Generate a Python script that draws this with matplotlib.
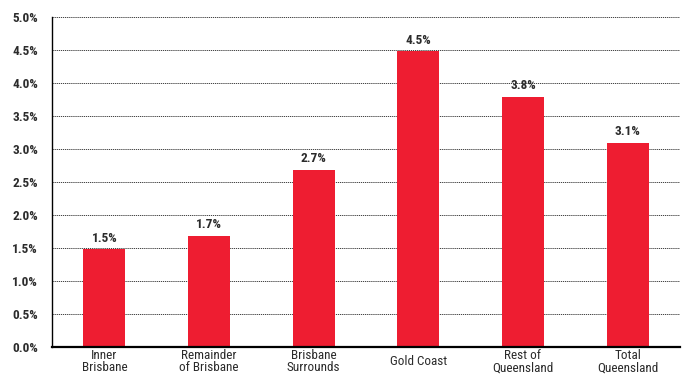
import numpy as np
import matplotlib
matplotlib.use("Agg")
import matplotlib.pyplot as plt
from matplotlib.ticker import FuncFormatter
from matplotlib import font_manager

# donnees
regions = ["Inner\nBrisbane", "Remainder\nof Brisbane", "Brisbane\nSurrounds",
           "Gold Coast", "Rest of\nQueensland", "Total\nQueensland"]
croissance = [1.48, 1.68, 2.68, 4.48, 3.79, 3.09]
yticks = [0.0, 0.5, 1.0, 1.5, 2.0, 2.5, 3.0, 3.5, 4.0, 4.5, 5.0]

# police condensee si disponible
dispo = {f.name for f in font_manager.fontManager.ttflist}
familles = [f for f in ["Roboto Condensed", "DejaVu Sans Condensed",
                        "Liberation Sans Narrow", "DejaVu Sans"] if f in dispo]
plt.rcParams["font.family"] = familles
texte = "#2b2b2b"
rouge = "#EE1D31"

fig = plt.figure(figsize=(6.83, 3.76), dpi=100)
ax = fig.add_axes([52 / 683, 1 - 347 / 376, 628 / 683, 330 / 376])

x = np.arange(len(regions))
ax.bar(x, croissance, width=0.4, color=rouge, zorder=3)

for xi, v in zip(x, croissance):
    ax.text(xi, v + 0.07, f"{v:.1f}%", ha="center", va="bottom",
            fontsize=9.5, color=texte, fontweight="bold")

ax.set_xlim(-0.5, 5.5)
ax.set_ylim(0, 5.0)
ax.set_yticks(yticks)
ax.yaxis.set_major_formatter(FuncFormatter(lambda v, p: f"{v:.1f}%"))
ax.set_xticks(x)
ax.set_xticklabels(regions, fontsize=9.5, color=texte, linespacing=0.95,
                   va="center")
ax.tick_params(axis="y", labelsize=9.5, labelcolor=texte, length=0, pad=10)
ax.tick_params(axis="x", length=0, pad=10.5)
for lab in ax.get_yticklabels():
    lab.set_fontweight("bold")

ax.grid(axis="y", linestyle=(0, (1.5, 1)), color="#222222", linewidth=0.6, zorder=0)
ax.spines["top"].set_visible(False)
ax.spines["right"].set_visible(False)
ax.spines["left"].set_color("black")
ax.spines["left"].set_linewidth(1.0)
ax.spines["bottom"].set_color("black")
ax.spines["bottom"].set_linewidth(1.6)
ax.spines["bottom"].set_zorder(4)

plt.savefig("out.png", dpi=100)
plt.close()
